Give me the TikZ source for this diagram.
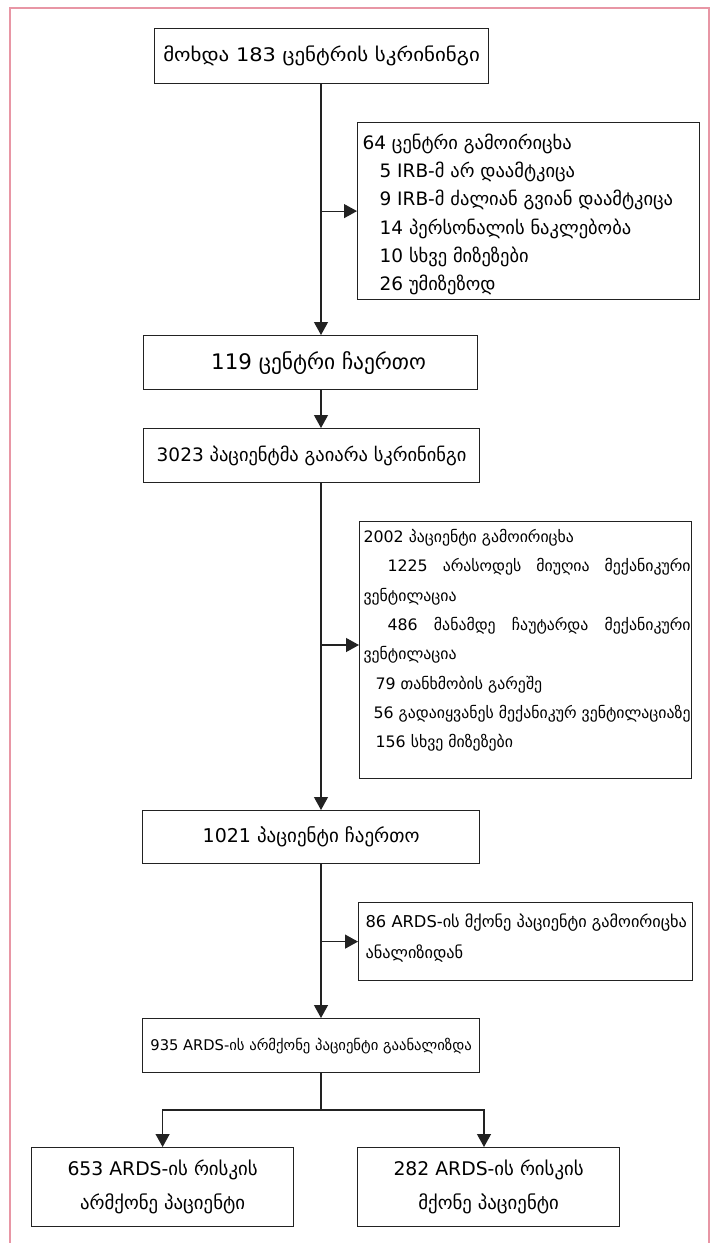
\documentclass[tikz,border=0pt]{standalone}
\usepackage{fontspec}
\setmainfont{DejaVu Sans}
\newfontfamily\widef[FakeStretch=1.12]{DejaVu Sans}
\usetikzlibrary{arrows.meta}
\definecolor{lc}{RGB}{34,34,34}
\definecolor{framec}{RGB}{232,150,165}
\newcommand\gline[2]{\mbox{\hspace*{#1}#2}\par}
\begin{document}
\begin{tikzpicture}[x=1pt,y=-1pt,
  box/.style={draw=lc, line width=1.2pt, inner sep=0pt, anchor=north west, rectangle},
  conn/.style={draw=lc, line width=1.2pt},
  arr/.style={draw=lc, line width=1.2pt, -{Triangle[length=13pt,width=14pt]}}]
\useasboundingbox (0,0) rectangle (713,1243);
\draw[framec, line width=2pt] (10,1243) -- (10,8) -- (709,8) -- (709,1243);
\coordinate (t) at (321,0);
\coordinate (r) at (484,0);
% main boxes
\node[box, minimum width=334pt, minimum height=55pt, font=\widef\fontsize{18.7}{22}\selectfont] (b1) at (154,28) {მოხდა 183 ცენტრის სკრინინგი};
\node[box, minimum width=334pt, minimum height=54pt, font=\fontsize{21.4}{25}\selectfont] (b2) at (143,335) {\hspace*{16pt}119 ცენტრი ჩაერთო};
\node[box, minimum width=336pt, minimum height=54pt, font=\fontsize{18.5}{22}\selectfont] (b3) at (143,428) {3023 პაციენტმა გაიარა სკრინინგი};
\node[box, minimum width=337pt, minimum height=53pt, font=\fontsize{19}{23}\selectfont] (b4) at (142,810) {1021 პაციენტი ჩაერთო};
\node[box, minimum width=337pt, minimum height=54pt, font=\fontsize{14.7}{18}\selectfont] (b5) at (142,1018) {935 ARDS-ის არმქონე პაციენტი გაანალიზდა};
% exclusion boxes
\node[box] (ex1) at (357,122) {\parbox[c][177pt][t]{342pt}{\fontsize{18.5}{28.3}\selectfont\lineskiplimit=-100pt
\gline{5pt}{\rule{0pt}{26.5pt}64 ცენტრი გამოირიცხა}
\gline{22pt}{5 IRB-მ არ დაამტკიცა}
\gline{22pt}{9 IRB-მ ძალიან გვიან დაამტკიცა}
\gline{22pt}{14 პერსონალის ნაკლებობა}
\gline{22pt}{10 სხვე მიზეზები}
\gline{22pt}{26 უმიზეზოდ}}};
\node[box] (ex2) at (359,521) {\parbox[c][257pt][t]{332pt}{\fontsize{15.8}{29.3}\selectfont\lineskiplimit=-100pt
\gline{4pt}{\rule{0pt}{21pt}2002 პაციენტი გამოირიცხა}
\gline{28pt}{\makebox[303pt][s]{1225 არასოდეს მიუღია მექანიკური}}
\gline{4pt}{ვენტილაცია}
\gline{28pt}{\makebox[303pt][s]{486 მანამდე ჩაუტარდა მექანიკური}}
\gline{4pt}{ვენტილაცია}
\gline{16pt}{79 თანხმობის გარეშე}
\gline{14pt}{56 გადაიყვანეს მექანიკურ ვენტილაციაზე}
\gline{16pt}{156 სხვე მიზეზები}}};
\node[box] (ex3) at (358,902) {\parbox[c][78pt][t]{334pt}{\fontsize{16.3}{31}\selectfont\lineskiplimit=-100pt
\gline{7pt}{\rule{0pt}{25pt}86 ARDS-ის მქონე პაციენტი გამოირიცხა}
\gline{7pt}{ანალიზიდან}}};
% bottom boxes
\node[box, minimum width=262pt, minimum height=79pt, align=center, font=\fontsize{18.8}{34}\selectfont] (c1) at (31,1147) {653 ARDS-ის რისკის\\არმქონე პაციენტი};
\node[box, minimum width=262pt, minimum height=79pt, align=center, font=\fontsize{18.8}{34}\selectfont] (c2) at (357,1147) {282 ARDS-ის რისკის\\მქონე პაციენტი};
% connectors
\coordinate (y2) at (0,645);
\coordinate (sp) at (0,1110);
\draw[arr] (b1.south -| t) -- (b2.north -| t);
\draw[arr] (ex1.west -| t) -- (ex1.west);
\draw[arr] (b2.south -| t) -- (b3.north -| t);
\draw[arr] (b3.south -| t) -- (b4.north -| t);
\draw[arr] (t |- y2) -- (ex2.west |- y2);
\draw[arr] (b4.south -| t) -- (b5.north -| t);
\draw[arr] (ex3.west -| t) -- (ex3.west);
\draw[conn] (b5.south -| t) -- (t |- sp);
\draw[arr] (t |- sp) -| (c1.north);
\draw[arr] (t |- sp) -- (r |- sp) -- (r |- c2.north);
\end{tikzpicture}
\end{document}
